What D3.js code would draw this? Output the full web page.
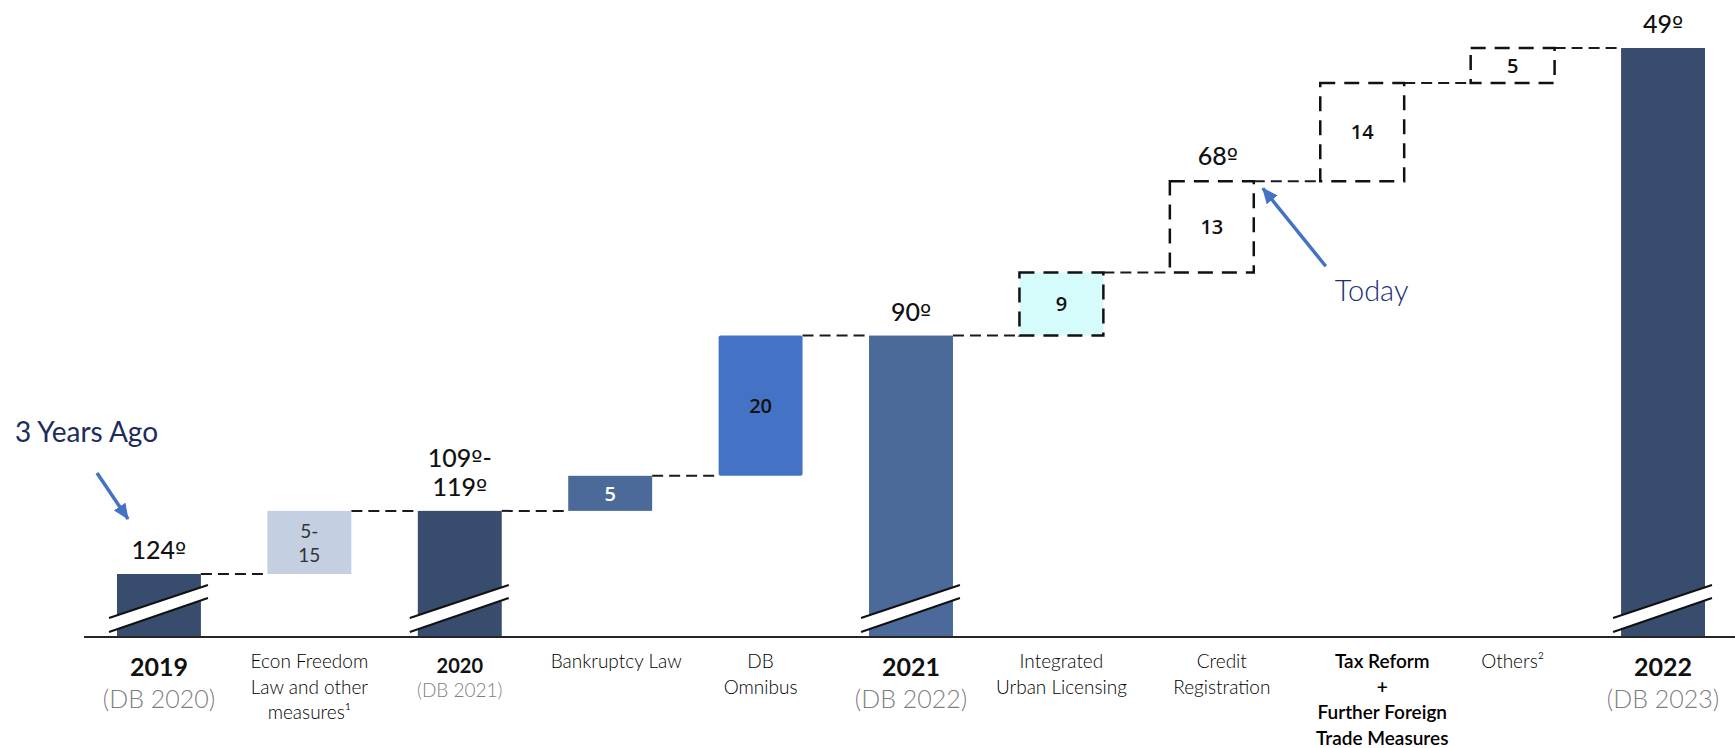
<!DOCTYPE html>
<html>
<head>
<meta charset="utf-8">
<script src="https://cdn.jsdelivr.net/npm/d3@7"></script>
<style>
  html, body { margin: 0; padding: 0; background: #ffffff; }
  svg { display: block; font-family: Lato, "Open Sans", sans-serif; }
</style>
</head>
<body>
<svg id="chart" width="1735" height="748"></svg>
<script>
// Doing Business ranking bridge, 2019 → 2022
const categories = ["2019", "Econ Freedom", "2020", "Bankruptcy Law", "DB Omnibus", "2021",
  "Integrated Urban Licensing", "Credit Registration", "Tax Reform", "Others", "2022"];
// total = ranking bar, step = reform already in place, planned = reform still to come
const kinds = ["total", "step", "total", "step", "step", "total",
  "planned", "planned", "planned", "planned", "total"];
// ranking position for totals, positions gained for reforms
const values = [124, 9, 115, 5, 20, 90, 9, 13, 14, 5, 49];
const valueLabels = ["124º", "5-\n15", "109º-\n119º", "5", "20", "90º", "9", "13", "14", "5", "49º"];
const tickLabels = [
  ["2019", "(DB 2020)"],
  ["Econ Freedom", "Law and other", "measures¹"],
  ["2020", "(DB 2021)"],
  ["Bankruptcy Law"],
  ["DB", "Omnibus"],
  ["2021", "(DB 2022)"],
  ["Integrated", "Urban Licensing"],
  ["Credit", "Registration"],
  ["Tax Reform", "+", "Further Foreign", "Trade Measures"],
  ["Others²"],
  ["2022", "(DB 2023)"]
];
const todayRank = 68;
const todayLabel = "68º";

// palette
const fills = ["#384d6d", "#c4cfe1", "#384d6d", "#4b6a9a", "#4472c4", "#4b6a9a",
  "#d5fcfa", "none", "none", "none", "#384d6d"];
const annotationBlue = "#4472c4";

const svg = d3.select("#chart");
const axisY = 637;

const x = d3.scaleBand().domain(categories).range([117, 1705]).paddingInner(0.442).paddingOuter(0);
const y = d3.scaleLinear().domain([49, 124]).range([48, 574]);
const bw = x.bandwidth();

// running levels of the bridge
let level = null;
const bars = categories.map((c, i) => {
  if (kinds[i] === "total") {
    level = values[i];
    return { c, i, kind: "total", start: values[i], end: values[i] };
  }
  const start = level;
  level = level - values[i];
  return { c, i, kind: kinds[i], start, end: level };
});

// writes a rank label, giving the ordinal sign a font that draws it underlined
function rankText(sel, str) {
  str.split(/(º)/).filter(s => s.length).forEach(part => {
    const ts = sel.append("tspan").text(part);
    if (part === "º") ts.attr("font-family", "'DejaVu Sans', 'Liberation Sans', sans-serif").attr("font-size", "0.95em");
  });
}

// dashed connectors between consecutive marks
const conn = svg.append("g");
bars.slice(0, -1).forEach((b, i) => {
  const nx = bars[i + 1];
  conn.append("line")
    .attr("x1", x(b.c) + bw).attr("x2", x(nx.c))
    .attr("y1", y(b.end)).attr("y2", y(b.end))
    .attr("stroke", "#1a1a1a").attr("stroke-width", 2)
    .attr("stroke-dasharray", "11,6");
});

// bars
const barG = svg.append("g");
bars.forEach(b => {
  const top = b.kind === "total" ? y(b.start) : y(b.end);
  const bottom = b.kind === "total" ? axisY : y(b.start);
  const r = barG.append("rect")
    .attr("x", x(b.c)).attr("y", top)
    .attr("width", bw).attr("height", bottom - top)
    .attr("fill", fills[b.i] === "none" ? "#ffffff" : fills[b.i]);
  if (b.c === "DB Omnibus") r.attr("rx", 2);
  if (b.kind === "planned") {
    r.attr("stroke", "#111").attr("stroke-width", 2.5).attr("stroke-dasharray", "15,9");
  }
});

// axis-break marks on the ranking bars
const breakG = svg.append("g");
bars.filter(b => b.kind === "total").forEach(b => {
  const x0 = x(b.c) - 8, x1 = x(b.c) + bw + 7;
  const lo = [[x0, axisY - 5], [x1, axisY - 39]];
  const hi = [[x0, axisY - 19], [x1, axisY - 52]];
  breakG.append("path")
    .attr("d", `M${hi[0]}L${hi[1]}L${lo[1]}L${lo[0]}Z`)
    .attr("fill", "#ffffff");
  [lo, hi].forEach(seg => breakG.append("line")
    .attr("x1", seg[0][0]).attr("y1", seg[0][1])
    .attr("x2", seg[1][0]).attr("y2", seg[1][1])
    .attr("stroke", "#111").attr("stroke-width", 2));
});

// baseline
svg.append("line")
  .attr("x1", 84).attr("x2", 1735).attr("y1", axisY).attr("y2", axisY)
  .attr("stroke", "#262626").attr("stroke-width", 2);

// value labels
const lab = svg.append("g");
bars.forEach(b => {
  const lines = valueLabels[b.i].split("\n");
  const cx = x(b.c) + bw / 2;
  if (b.kind === "total") {
    const base = y(b.start) - 15;
    lines.forEach((t, k) => {
      const tx = lab.append("text")
        .attr("x", cx).attr("y", base - (lines.length - 1 - k) * 29)
        .attr("text-anchor", "middle").attr("font-size", 25).attr("font-weight", 500)
        .attr("fill", "#111");
      rankText(tx, t);
    });
  } else {
    const cy = (y(b.start) + y(b.end)) / 2;
    if (lines.length > 1) {
      lines.forEach((t, k) => lab.append("text")
        .attr("x", cx).attr("y", cy + (k - (lines.length - 1) / 2) * 24 + 8)
        .attr("text-anchor", "middle").attr("font-size", 19).attr("font-weight", 400)
        .attr("fill", "#333").text(t));
    } else {
      lab.append("text")
        .attr("x", cx).attr("y", cy)
        .attr("dy", "0.36em")
        .attr("text-anchor", "middle")
        .attr("font-family", "'Open Sans', sans-serif")
        .attr("font-size", 20).attr("font-weight", 600)
        .attr("fill", b.c === "Bankruptcy Law" ? "#ffffff" : "#111")
        .text(lines[0]);
    }
  }
});

// current position marker above the credit registration step
const creditBar = bars[categories.indexOf("Credit Registration")];
rankText(lab.append("text")
  .attr("x", x(creditBar.c) + bw / 2 + 6).attr("y", y(todayRank) - 16)
  .attr("text-anchor", "middle").attr("font-size", 25).attr("font-weight", 500)
  .attr("fill", "#111"), todayLabel);

// category axis
const tickShift = { "Bankruptcy Law": 6, "Credit Registration": 10, "Tax Reform": 20 };
const axisG = svg.append("g")
  .attr("transform", `translate(0,${axisY})`)
  .call(d3.axisBottom(x).tickSize(0).tickSizeOuter(0));
axisG.select(".domain").remove();
axisG.selectAll(".tick text").each(function (d) {
  const i = categories.indexOf(d);
  const t = d3.select(this)
    .attr("y", 0).attr("dy", null)
    .attr("x", tickShift[d] || 0)
    .attr("font-family", "Lato, 'Open Sans', sans-serif")
    .attr("text-anchor", "middle")
    .text(null);
  const lines = tickLabels[i];
  if (kinds[i] === "total") {
    const small = d === "2020";
    t.append("tspan").attr("x", 0).attr("y", small ? 36 : 39)
      .attr("font-size", small ? 20 : 25).attr("font-weight", 700).attr("fill", "#111")
      .text(lines[0]);
    t.append("tspan").attr("x", 0).attr("y", small ? 60 : 71)
      .attr("font-size", small ? 19 : 25).attr("font-weight", 300).attr("fill", "#7f7f7f")
      .text(lines[1]);
  } else {
    const bold = d === "Tax Reform";
    lines.forEach((s, k) => t.append("tspan")
      .attr("x", tickShift[d] || 0).attr("y", 31 + k * 25.5)
      .attr("font-size", 19).attr("font-weight", bold ? 600 : 300)
      .attr("fill", "#000")
      .text(s));
  }
});

// annotations
const defs = svg.append("defs");
defs.append("marker").attr("id", "arrowHead")
  .attr("markerUnits", "userSpaceOnUse")
  .attr("markerWidth", 16).attr("markerHeight", 14)
  .attr("refX", 15).attr("refY", 7).attr("orient", "auto")
  .append("path").attr("d", "M0,0L16,7L0,14Z").attr("fill", annotationBlue);

const first = bars[0];
const tip1 = [x(first.c) + 11, y(first.start) - 55];
svg.append("line")
  .attr("x1", tip1[0] - 31).attr("y1", tip1[1] - 46)
  .attr("x2", tip1[0]).attr("y2", tip1[1])
  .attr("stroke", annotationBlue).attr("stroke-width", 3.5)
  .attr("marker-end", "url(#arrowHead)");
svg.append("text")
  .attr("x", 15).attr("y", 442)
  .attr("font-size", 28).attr("font-weight", 400).attr("fill", "#1c2c5e")
  .text("3 Years Ago");

const tip2 = [x(creditBar.c) + bw + 9, y(todayRank) + 7];
svg.append("line")
  .attr("x1", tip2[0] + 63).attr("y1", tip2[1] + 78)
  .attr("x2", tip2[0]).attr("y2", tip2[1])
  .attr("stroke", annotationBlue).attr("stroke-width", 3.5)
  .attr("marker-end", "url(#arrowHead)");
svg.append("text")
  .attr("x", tip2[0] + 72).attr("y", tip2[1] + 113)
  .attr("font-size", 29).attr("font-weight", 300).attr("fill", "#15307a")
  .text("Today");
</script>
</body>
</html>
